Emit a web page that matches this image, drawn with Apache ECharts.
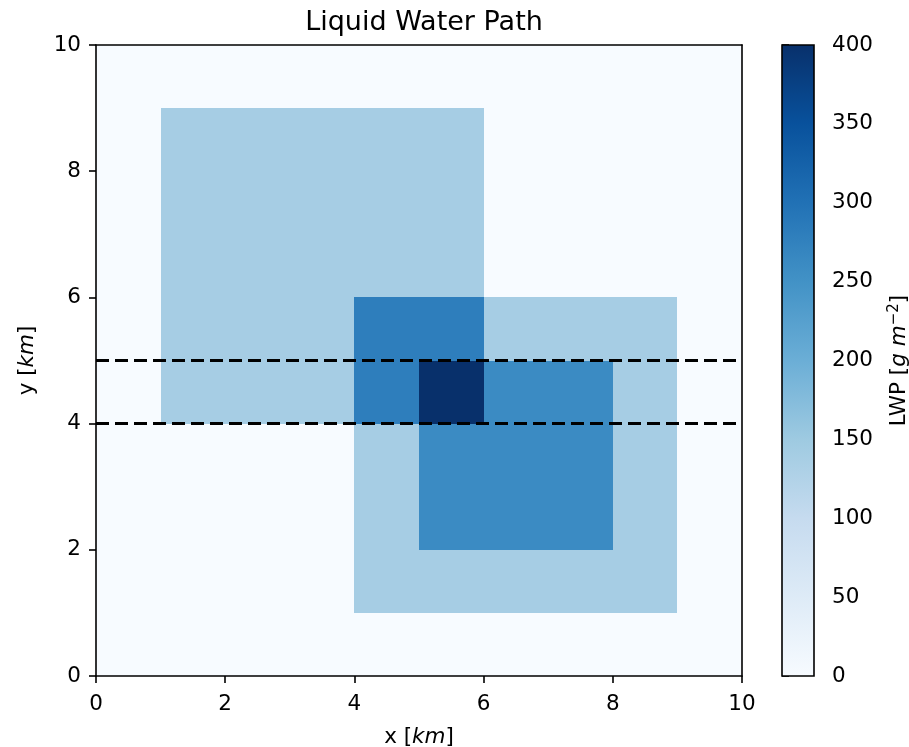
<!DOCTYPE html>
<html>
<head>
<meta charset="utf-8">
<script src="https://cdn.jsdelivr.net/npm/echarts@6/dist/echarts.min.js"></script>
<style>
  html, body { margin: 0; padding: 0; background: #fff; }
  #main { width: 909px; height: 747px; }
</style>
</head>
<body>
<div id="main"></div>
<script>
// grid cells, one row per y band (row 0 = y 0..1), one value per x band
const lwpRows = [
  [0, 0, 0, 0, 0, 0, 0, 0, 0, 0],
  [0, 0, 0, 0, 140, 140, 140, 140, 140, 0],
  [0, 0, 0, 0, 140, 260, 260, 260, 140, 0],
  [0, 0, 0, 0, 140, 260, 260, 260, 140, 0],
  [0, 140, 140, 140, 280, 400, 260, 260, 140, 0],
  [0, 140, 140, 140, 280, 280, 140, 140, 140, 0],
  [0, 140, 140, 140, 140, 140, 0, 0, 0, 0],
  [0, 140, 140, 140, 140, 140, 0, 0, 0, 0],
  [0, 140, 140, 140, 140, 140, 0, 0, 0, 0],
  [0, 0, 0, 0, 0, 0, 0, 0, 0, 0]
];
// dashed horizontal lines
const cutLevels = [4, 5];
const xExtent = [0, 10];
const lwpRange = [0, 400];
// matplotlib "Blues"
const blues = ['#f7fbff', '#deebf7', '#c6dbef', '#9ecae1', '#6baed6',
               '#4292c6', '#2171b5', '#08519c', '#08306b'];

const FONT = 'DejaVu Sans';
const FS = 21.5;

let cells = [];
lwpRows.forEach((row, y) => {
  row.forEach((v, x) => {
    cells.push([x, y, v]);
  });
});

const chart = echarts.init(document.getElementById('main'));

function cellItem(params, api) {
  const x = api.value(0), y = api.value(1);
  const p0 = api.coord([x, y + 1]);
  const p1 = api.coord([x + 1, y]);
  const x0 = Math.round(p0[0]), y0 = Math.round(p0[1]);
  const x1 = Math.round(p1[0]), y1 = Math.round(p1[1]);
  return {
    type: 'rect',
    shape: { x: x0, y: y0, width: x1 - x0, height: y1 - y0 },
    style: { fill: api.visual('color') }
  };
}

function cbarItem(params, api) {
  const p0 = api.coord([0, api.value(1)]);
  const p1 = api.coord([1, api.value(0)]);
  return {
    type: 'rect',
    shape: { x: p0[0], y: p0[1], width: p1[0] - p0[0], height: p1[1] - p0[1] },
    style: {
      fill: new echarts.graphic.LinearGradient(0, 1, 0, 0,
        blues.map((c, i) => ({ offset: i / (blues.length - 1), color: c }))),
      stroke: '#000',
      lineWidth: 1.6
    }
  };
}

const axisLine = { show: true, onZero: false, lineStyle: { color: '#000', width: 1.6 } };
const axisTick = { show: true, inside: false, length: 7, lineStyle: { color: '#000', width: 1.6 } };
const axisLabel = { fontFamily: FONT, fontSize: FS, color: '#000', margin: 15 };
const nameStyle = {
  fontFamily: FONT, fontSize: FS, color: '#000',
  rich: { i: { fontFamily: FONT, fontSize: FS, fontStyle: 'italic', color: '#000' } }
};

let series = [{
  type: 'custom',
  xAxisIndex: 0, yAxisIndex: 0,
  renderItem: cellItem,
  encode: { x: 0, y: 1 },
  data: cells,
  z: 1,
  silent: true
}];

cutLevels.forEach(lv => {
  series.push({
    type: 'line',
    xAxisIndex: 0, yAxisIndex: 0,
    data: [[xExtent[0], lv], [xExtent[1], lv]],
    symbol: 'none',
    lineStyle: { color: '#000', width: 3, type: [13, 6] },
    z: 4,
    silent: true
  });
});

series.push({
  type: 'custom',
  xAxisIndex: 2, yAxisIndex: 2,
  renderItem: cbarItem,
  encode: { y: [0, 1] },
  data: [lwpRange],
  silent: true
});

chart.setOption({
  animation: false,
  backgroundColor: '#fff',
  title: {
    text: 'Liquid Water Path',
    left: 419, top: 4, textAlign: 'center',
    textStyle: { fontFamily: FONT, fontSize: 27, fontWeight: 'normal', color: '#000' }
  },
  grid: [
    { left: 96, top: 45, width: 646, height: 631, outerBoundsMode: 'none', containLabel: false },
    { left: 782, top: 45, width: 32, height: 631, outerBoundsMode: 'none', containLabel: false }
  ],
  visualMap: {
    show: false,
    type: 'continuous',
    seriesIndex: 0,
    dimension: 2,
    min: lwpRange[0], max: lwpRange[1],
    inRange: { color: blues }
  },
  xAxis: [
    {
      gridIndex: 0, type: 'value', min: 0, max: 10, interval: 2, position: 'bottom',
      axisLine, axisTick, axisLabel: Object.assign({}, axisLabel, { margin: 17 }),
      splitLine: { show: false }, z: 5,
      name: 'x [{i|km}]', nameLocation: 'middle', nameGap: 50, nameTextStyle: nameStyle
    },
    {
      gridIndex: 0, type: 'value', min: 0, max: 10, position: 'top',
      axisLine, axisTick: { show: false }, axisLabel: { show: false },
      splitLine: { show: false }, z: 5
    },
    { gridIndex: 1, type: 'value', min: 0, max: 1, show: false }
  ],
  yAxis: [
    {
      gridIndex: 0, type: 'value', min: 0, max: 10, interval: 2, position: 'left',
      axisLine, axisTick, axisLabel, splitLine: { show: false }, z: 5,
      name: 'y [{i|km}]', nameLocation: 'middle', nameGap: 58, nameRotate: 90,
      nameTextStyle: nameStyle
    },
    {
      gridIndex: 0, type: 'value', min: 0, max: 10, position: 'right',
      axisLine, axisTick: { show: false }, axisLabel: { show: false },
      splitLine: { show: false }, z: 5
    },
    {
      gridIndex: 1, type: 'value', min: lwpRange[0], max: lwpRange[1], interval: 50,
      position: 'right',
      axisLine: { show: false }, axisTick, splitLine: { show: false },
      axisLabel: Object.assign({}, axisLabel, { margin: 18 }),
      name: 'LWP [{i|g m}{sup|−2}]', nameLocation: 'middle', nameGap: 73, nameRotate: 90,
      nameTextStyle: {
        fontFamily: FONT, fontSize: FS, color: '#000', lineHeight: 24,
        rich: {
          i: { fontFamily: FONT, fontSize: FS, fontStyle: 'italic', color: '#000', lineHeight: 24 },
          sup: { fontFamily: FONT, fontSize: 15, color: '#000', verticalAlign: 'top', lineHeight: 15 }
        }
      }
    }
  ],
  series
});
</script>
</body>
</html>
